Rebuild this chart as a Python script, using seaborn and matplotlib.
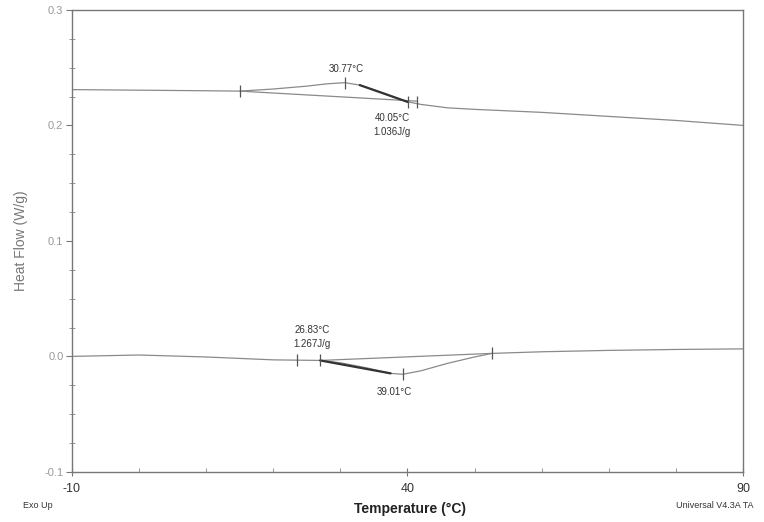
import numpy as np
import pandas as pd
import seaborn as sns
import matplotlib.pyplot as plt

# upper DSC run
top_temp = [-10, 0, 10, 15, 20, 25, 28, 30.7, 33, 36, 40, 42, 46, 50, 60, 70, 80, 90]
top_flow = [0.2310, 0.2305, 0.2300, 0.2297, 0.2315, 0.2340, 0.2360, 0.2370, 0.2348,
            0.2290, 0.2205, 0.2182, 0.2152, 0.2139, 0.2113, 0.2078, 0.2043, 0.2000]
top_base_temp = [15, 41.4]
top_base_flow = [0.2297, 0.2210]
top_tan_temp = [32.9, 40.1]
top_tan_flow = [0.2349, 0.2202]
top_mark_temp = [15, 30.77, 40.05, 41.4]
top_mark_flow = [0.2297, 0.2370, 0.2204, 0.2200]

# lower DSC run
bot_temp = [-10, 0, 10, 20, 27, 30, 34, 37.5, 39.3, 42, 46, 50, 52.6, 60, 70, 80, 90]
bot_flow = [0.0000, 0.0012, -0.0005, -0.0030, -0.0035, -0.0055, -0.0100, -0.0147,
            -0.0155, -0.0125, -0.0060, -0.0005, 0.0026, 0.0040, 0.0052, 0.0060, 0.0065]
bot_base_temp = [27, 52.6]
bot_base_flow = [-0.0035, 0.0026]
bot_tan_temp = [27, 37.5]
bot_tan_flow = [-0.0035, -0.0147]
bot_mark_temp = [23.5, 27.0, 39.3, 52.6]
bot_mark_flow = [-0.0032, -0.0035, -0.0155, 0.0026]

y_ticks = [-0.1, 0.0, 0.1, 0.2, 0.3]
y_labels = ["-0.1", "0.0", "0.1", "0.2", "0.3"]
x_ticks = [-10, 40, 90]
x_labels = ["-10", "40", "90"]

sns.set_style("white")
plt.rcParams['font.family'] = ['Liberation Sans', 'DejaVu Sans']
plt.rcParams['axes.unicode_minus'] = False

fig = plt.figure(figsize=(7.64, 5.22), dpi=100)
ax = fig.add_axes([0.094, 0.096, 0.8785, 0.885])

curve_col = "#8a8a8a"
dark = "#333333"

top = pd.DataFrame({"T": top_temp, "HF": top_flow})
bot = pd.DataFrame({"T": bot_temp, "HF": bot_flow})
sns.lineplot(data=top, x="T", y="HF", ax=ax, color=curve_col, lw=0.9, sort=False, estimator=None)
sns.lineplot(data=bot, x="T", y="HF", ax=ax, color=curve_col, lw=0.9, sort=False, estimator=None)

ax.plot(top_base_temp, top_base_flow, color=curve_col, lw=0.9)
ax.plot(bot_base_temp, bot_base_flow, color=curve_col, lw=0.9)
ax.plot(top_tan_temp, top_tan_flow, color=dark, lw=1.6)
ax.plot(bot_tan_temp, bot_tan_flow, color=dark, lw=1.6)

ax.plot(top_mark_temp, top_mark_flow, ls="none", marker="|", ms=9, mew=0.9, color="#555555")
ax.plot(bot_mark_temp, bot_mark_flow, ls="none", marker="|", ms=9, mew=0.9, color="#555555")

ann = dict(fontsize=7, color="#333333", ha="center", va="center", linespacing=1.5)
ax.text(30.9, 0.2485, "30.77°C", **ann)
ax.text(37.7, 0.2005, "40.05°C\n1.036J/g", **ann)
ax.text(25.8, 0.0165, "26.83°C\n1.267J/g", **ann)
ax.text(38.1, -0.0305, "39.01°C", **ann)

ax.set_xlim(-10, 90)
ax.set_ylim(-0.1, 0.3)
ax.set_xticks(x_ticks)
ax.set_xticklabels(x_labels)
ax.set_xticks(np.arange(-10, 91, 10), minor=True)
ax.set_yticks(y_ticks)
ax.set_yticklabels(y_labels)
ax.set_yticks(np.arange(-0.1, 0.301, 0.025), minor=True)

for s in ax.spines.values():
    s.set_color("#777777")
    s.set_linewidth(1.0)

ax.tick_params(axis="y", which="major", direction="out", length=4, width=0.8,
               color="#777777", labelsize=8, labelcolor="#999999", pad=2, left=True)
ax.tick_params(axis="y", which="minor", direction="inout", length=4, width=0.6,
               color="#888888", left=True)
ax.tick_params(axis="x", which="major", direction="inout", length=6, width=0.8,
               color="#777777", labelsize=9, labelcolor="#333333", pad=5, bottom=True)
ax.tick_params(axis="x", which="minor", direction="in", length=3, width=0.6,
               color="#888888", bottom=True)

ax.set_xlabel("")
ax.set_ylabel("Heat Flow (W/g)", fontsize=10, color="#777777", labelpad=12)
fig.text(0.537, 0.025, "Temperature (°C)", fontsize=10, fontweight="bold",
         color="#222222", ha="center", va="center")
fig.text(0.05, 0.031, "Exo Up", fontsize=6.5, color="#333333", ha="center", va="center")
fig.text(0.935, 0.031, "Universal V4.3A TA", fontsize=6.5, color="#333333",
         ha="center", va="center")

fig.savefig("out.png", dpi=100, facecolor="white")
